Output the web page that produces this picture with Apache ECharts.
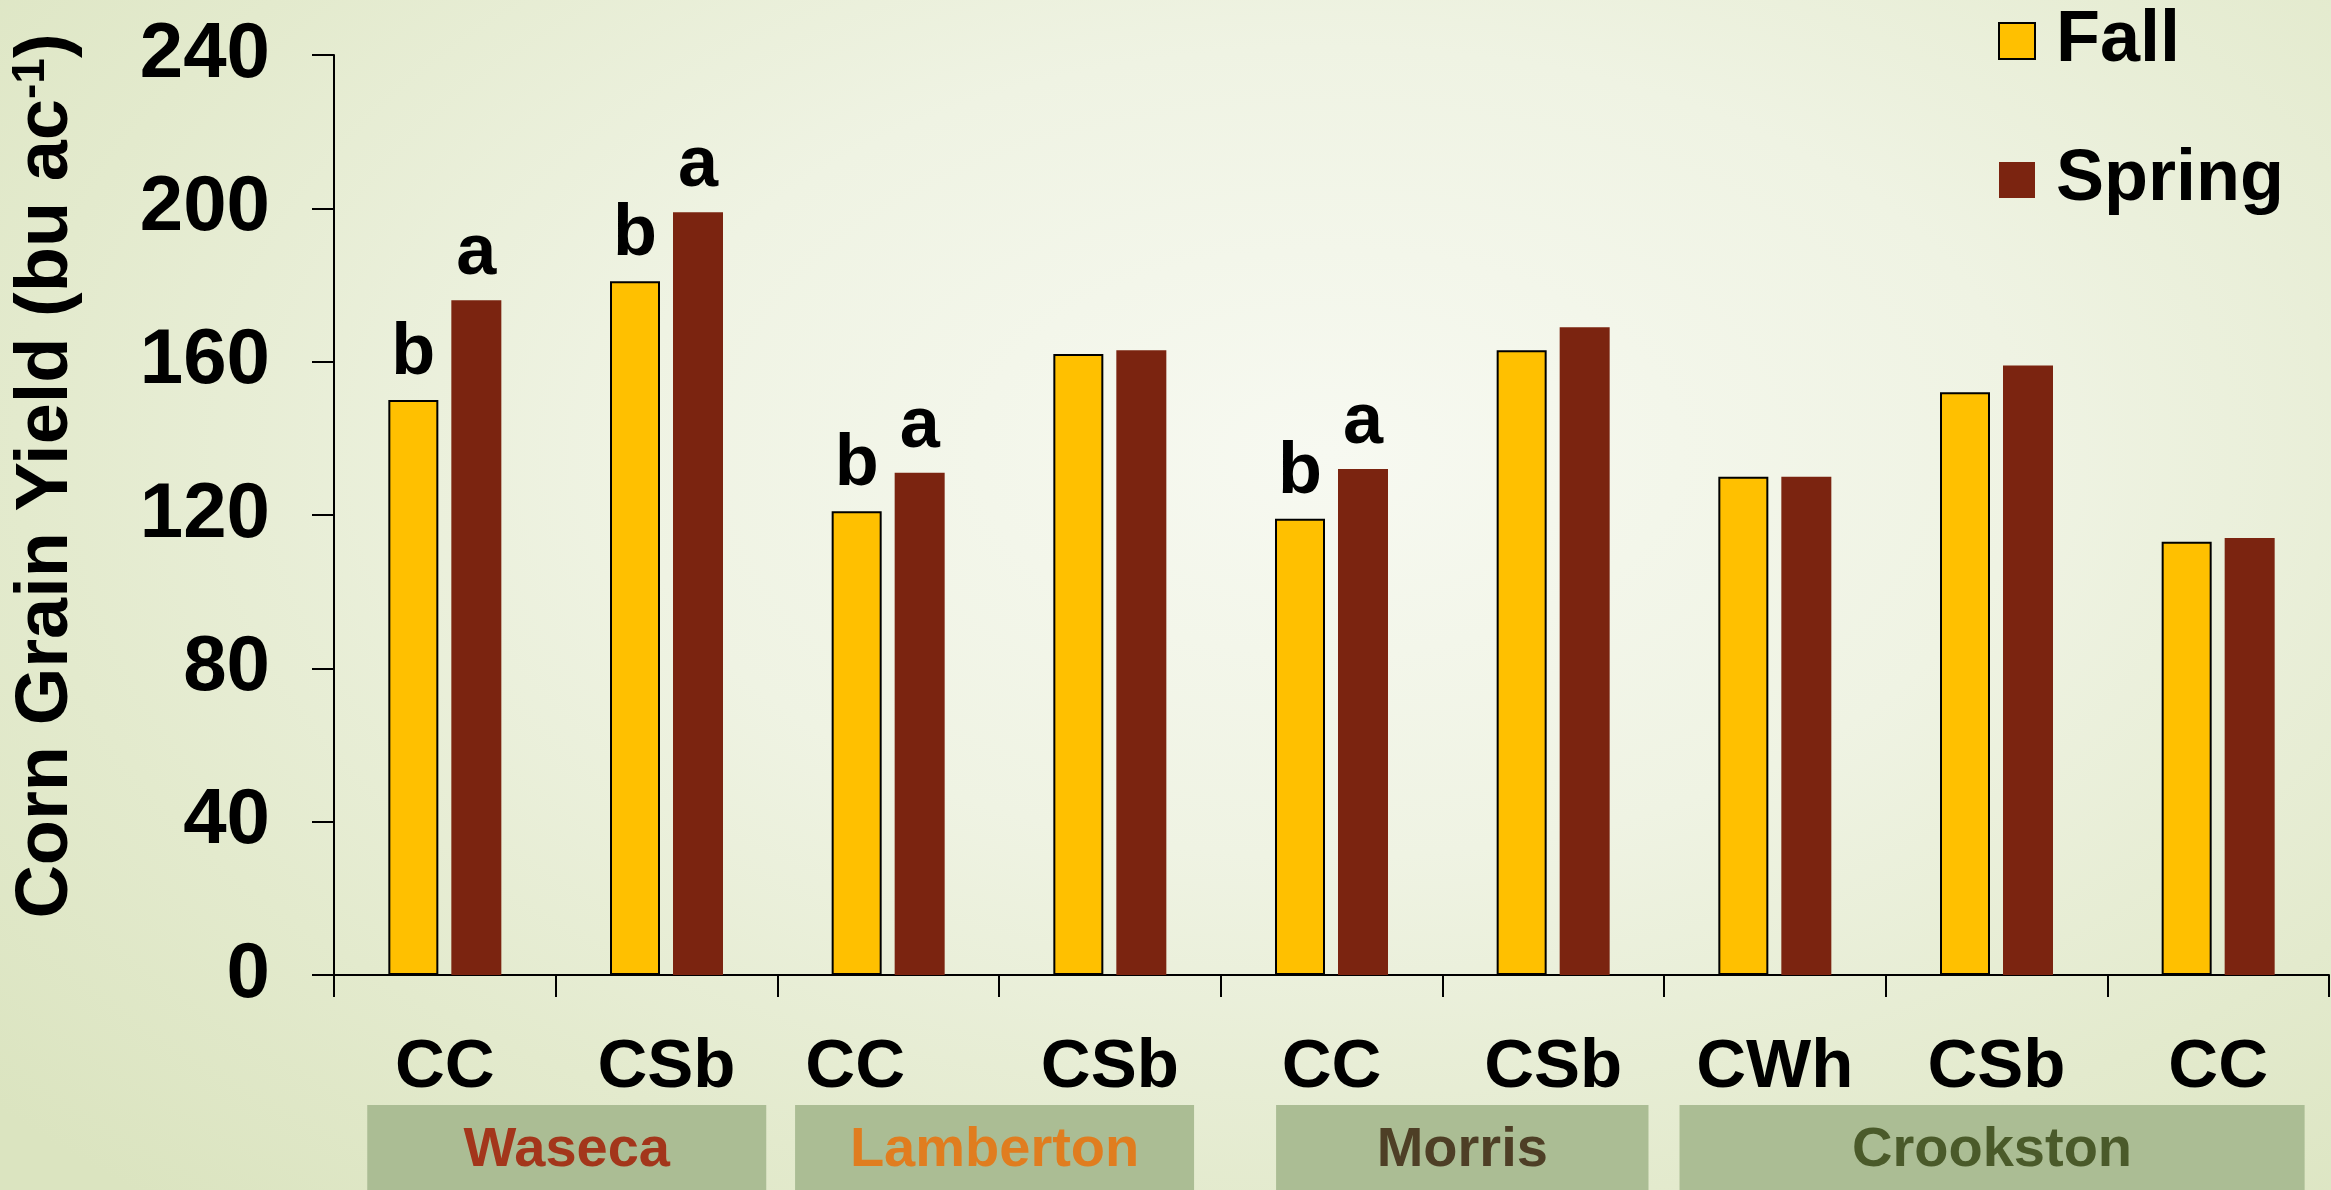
<!DOCTYPE html>
<html>
<head>
<meta charset="utf-8">
<script src="https://cdn.jsdelivr.net/npm/echarts@6/dist/echarts.min.js"></script>
<style>
  html, body { margin: 0; padding: 0; }
  #chart {
    width: 2331px; height: 1190px;
    background: radial-gradient(ellipse 75% 85% at 57% 38%, #f7f9f1 0%, #eff3e3 40%, #e3eacd 75%, #dbe4c0 100%);
  }
</style>
</head>
<body>
<div id="chart"></div>
<script>
// Corn grain yield by rotation and N timing at four Minnesota sites
const rotations = ['CC', 'CSb', 'CC', 'CSb', 'CC', 'CSb', 'CWh', 'CSb', 'CC'];
const fallYield = [150, 181, 121, 162, 119, 163, 130, 152, 113];
const springYield = [176, 199, 131, 163, 132, 169, 130, 159, 114];
const fallLetters = ['b', 'b', 'b', '', 'b', '', '', '', ''];
const springLetters = ['a', 'a', 'a', '', 'a', '', '', '', ''];
const yTicks = [0, 40, 80, 120, 160, 200, 240];

const sites = ['Waseca', 'Lamberton', 'Morris', 'Crookston'];
const siteFirst = [0, 2, 4, 6];
const siteLast = [1, 3, 5, 8];

// site banner styling (extent in category widths beyond the first/last centres)
const siteColors = ['#a3361b', '#e07d1f', '#4e3f26', '#4a5a2a'];
const bannerLeft = [-0.35, -0.42, -0.25, -0.43];
const bannerRight = [0.45, 0.38, 0.43, 0.39];

const FONT = '"Liberation Sans", Arial, sans-serif';

const chart = echarts.init(document.getElementById('chart'), null, { renderer: 'canvas' });

const letterLabel = (letters) => ({
  show: true,
  position: 'top',
  distance: 10,
  color: '#000',
  fontFamily: FONT,
  fontWeight: 'bold',
  fontSize: 72,
  formatter: (p) => letters[p.dataIndex]
});

chart.setOption({
  animation: false,
  backgroundColor: 'transparent',
  grid: { left: 327, right: 2, top: 55, bottom: 215, containLabel: false },
  legend: {
    orient: 'vertical',
    left: 1993,
    top: 0,
    itemWidth: 36,
    itemHeight: 36,
    itemGap: 67,
    icon: 'rect',
    textStyle: { fontFamily: FONT, fontWeight: 'bold', fontSize: 72, color: '#000', padding: [0, 0, 0, 16] },
    data: ['Fall', 'Spring']
  },
  xAxis: {
    type: 'category',
    data: rotations.map((r, i) => i === 2 ? { value: r, textStyle: { padding: [0, 66, 0, 0] } } : r),
    boundaryGap: true,
    axisLine: { show: true, lineStyle: { color: '#000', width: 2 } },
    axisTick: { show: true, length: 22, inside: false, alignWithLabel: false, lineStyle: { color: '#000', width: 2 } },
    axisLabel: {
      margin: 58,
      color: '#000',
      fontFamily: FONT,
      fontWeight: 'bold',
      fontSize: 69
    },
    splitLine: { show: false }
  },
  yAxis: {
    type: 'value',
    min: 0,
    max: 240,
    interval: 40,
    name: 'Corn Grain Yield (bu ac{sup|-1})',
    nameLocation: 'middle',
    nameGap: 248,
    nameRotate: 90,
    nameTextStyle: {
      color: '#000',
      fontFamily: FONT,
      fontWeight: 'bold',
      fontSize: 74,
      padding: [0, 0, 0, 78],
      rich: {
        sup: { fontFamily: FONT, fontWeight: 'bold', fontSize: 46, verticalAlign: 'top', padding: [0, 0, 32, 0], color: '#000' }
      }
    },
    axisLine: { show: true, lineStyle: { color: '#000', width: 2 } },
    axisTick: { show: true, length: 22, inside: false, lineStyle: { color: '#000', width: 2 } },
    axisLabel: {
      margin: 64,
      color: '#000',
      fontFamily: FONT,
      fontWeight: 'bold',
      fontSize: 78,
      formatter: (v) => yTicks.includes(v) ? String(v) : ''
    },
    splitLine: { show: false }
  },
  series: [
    {
      name: 'Fall',
      type: 'bar',
      data: fallYield,
      barWidth: 50,
      barGap: '26%',
      itemStyle: { color: '#ffc000', borderColor: '#000', borderWidth: 2 },
      label: letterLabel(fallLetters)
    },
    {
      name: 'Spring',
      type: 'bar',
      data: springYield,
      barWidth: 50,
      barGap: '26%',
      itemStyle: { color: '#7b2410' },
      label: letterLabel(springLetters)
    }
  ]
});

// Site banners under the rotation labels, placed from the category scale
const step = chart.convertToPixel({ xAxisIndex: 0 }, 1) - chart.convertToPixel({ xAxisIndex: 0 }, 0);
const banners = sites.map((name, i) => {
  const x0 = chart.convertToPixel({ xAxisIndex: 0 }, siteFirst[i]) + bannerLeft[i] * step;
  const x1 = chart.convertToPixel({ xAxisIndex: 0 }, siteLast[i]) + bannerRight[i] * step;
  return {
    type: 'group',
    children: [
      { type: 'rect', shape: { x: x0, y: 1105, width: x1 - x0, height: 90 }, style: { fill: '#abbd94' }, silent: true },
      {
        type: 'text',
        x: (x0 + x1) / 2,
        y: 1151,
        style: {
          text: name,
          fill: siteColors[i],
          font: 'bold 56px ' + FONT,
          textAlign: 'center',
          textVerticalAlign: 'middle'
        },
        silent: true
      }
    ]
  };
});
chart.setOption({ graphic: banners });
</script>
</body>
</html>
